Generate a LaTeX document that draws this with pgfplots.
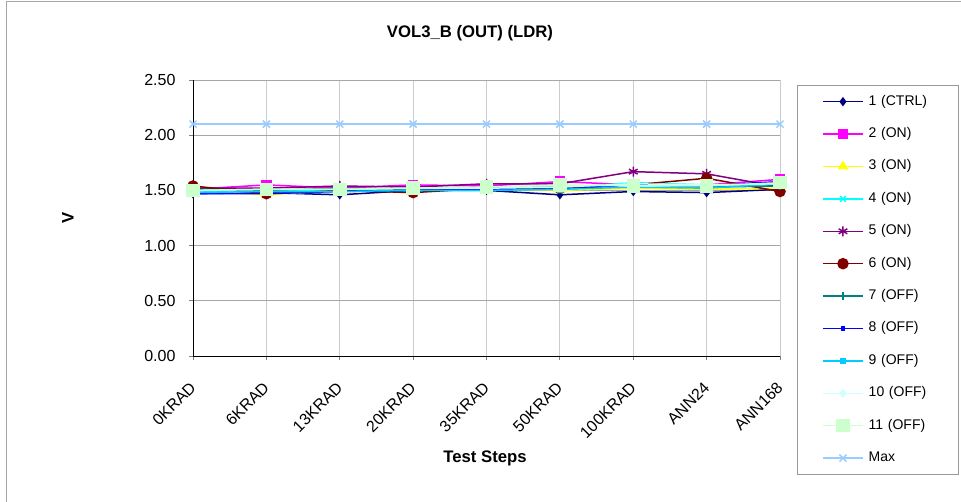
\documentclass[border=0pt]{standalone}
\usepackage{pgfplots}
\pgfplotsset{compat=1.18}
\usepackage{fontspec}
\setmainfont{Liberation Sans}
\definecolor{c1}{RGB}{0,0,128}
\definecolor{c2}{RGB}{255,0,255}
\definecolor{c3}{RGB}{255,255,0}
\definecolor{c4}{RGB}{0,255,255}
\definecolor{c5}{RGB}{128,0,128}
\definecolor{c6}{RGB}{128,0,0}
\definecolor{c7}{RGB}{0,128,128}
\definecolor{c8}{RGB}{0,0,255}
\definecolor{c9}{RGB}{0,204,255}
\definecolor{c10}{RGB}{204,255,255}
\definecolor{c11}{RGB}{204,255,204}
\definecolor{cmax}{RGB}{153,204,255}
\begin{document}
\begin{tikzpicture}[x=1pt,y=1pt]
\useasboundingbox (0,0) rectangle (961,501);
\draw[gray!70, line width=1pt] (6,-10) -- (6,499) -- (975,499);
\node[font=\bfseries\fontsize{16.7}{20}\selectfont] at (470,468) {VOL3\_B (OUT) (LDR)};
\node[font=\bfseries\fontsize{16.7}{20}\selectfont, rotate=90] at (68,283) {V};
\node[font=\bfseries\fontsize{16.7}{20}\selectfont] at (485,43) {Test Steps};
\begin{axis}[
  at={(193pt,145pt)}, anchor=south west,
  scale only axis, width=587pt, height=276pt,
  xmin=0, xmax=8, ymin=0, ymax=2.5,
  xtick={0,...,8},
  xticklabels={0KRAD,6KRAD,13KRAD,20KRAD,35KRAD,50KRAD,100KRAD,ANN24,ANN168},
  ytick={0,0.5,...,2.5},
  yticklabel style={xshift=-10pt, /pgf/number format/fixed, /pgf/number format/fixed zerofill, /pgf/number format/precision=2},
  /pgf/number format/assume math mode=true,
  tick label style={font=\fontsize{16}{19}\selectfont},
  x tick label style={yshift=-25pt, rotate=45, anchor=east, inner sep=0pt},
  grid=major,
  x grid style={gray!40, line width=0.8pt},
  y grid style={gray!70, line width=0.8pt},
  axis x line*=bottom, axis y line*=left,
  axis line style={black, line width=1pt},
  tick align=outside, major tick length=4pt,
  tick style={gray, line width=0.8pt},
  legend cell align=left,
  legend style={at={(1.029,0.982)}, anchor=north west, draw=gray!80, fill=white,
    inner xsep=25pt, inner ysep=10pt, row sep=19.4pt, column sep=5pt,
    font=\fontsize{14}{16}\selectfont,
    nodes={inner sep=0pt, text height=10pt, text depth=3pt, text width=64pt, align=left}},
  legend image code/.code={
    \draw[mark repeat=2,mark phase=2] plot coordinates {(0pt,0pt) (20pt,0pt) (40pt,0pt)};},
]
\addplot[color=c1, line width=1.5pt, mark=diamond*, mark size=3.5pt, mark options={solid}] coordinates {(0,1.47) (1,1.48) (2,1.46) (3,1.50) (4,1.50) (5,1.46) (6,1.49) (7,1.48) (8,1.51)};
\addlegendentry{1 (CTRL)}
\addplot[color=c2, line width=1.5pt, mark=square*, mark size=4.5pt, mark options={solid}] coordinates {(0,1.51) (1,1.55) (2,1.52) (3,1.55) (4,1.54) (5,1.58) (6,1.55) (7,1.55) (8,1.60)};
\addlegendentry{2 (ON)}
\addplot[color=c3, line width=1.5pt, mark=triangle*, mark size=4.5pt, mark options={solid}] coordinates {(0,1.50) (1,1.46) (2,1.50) (3,1.50) (4,1.51) (5,1.50) (6,1.52) (7,1.51) (8,1.52)};
\addlegendentry{3 (ON)}
\addplot[color=c4, line width=1.5pt, mark=x, mark size=4pt, mark options={solid}] coordinates {(0,1.49) (1,1.50) (2,1.50) (3,1.50) (4,1.51) (5,1.52) (6,1.57) (7,1.55) (8,1.55)};
\addlegendentry{4 (ON)}
\addplot[color=c5, line width=1.5pt, mark=asterisk, mark size=5pt, mark options={solid}] coordinates {(0,1.52) (1,1.52) (2,1.54) (3,1.53) (4,1.56) (5,1.56) (6,1.67) (7,1.65) (8,1.53)};
\addlegendentry{5 (ON)}
\addplot[color=c6, line width=1.5pt, mark=*, mark size=5pt, mark options={solid}] coordinates {(0,1.54) (1,1.47) (2,1.50) (3,1.48) (4,1.52) (5,1.52) (6,1.55) (7,1.61) (8,1.49)};
\addlegendentry{6 (ON)}
\addplot[color=c7, line width=1.5pt, mark=|, mark size=4pt, mark options={solid}] coordinates {(0,1.51) (1,1.50) (2,1.52) (3,1.51) (4,1.52) (5,1.53) (6,1.55) (7,1.53) (8,1.54)};
\addlegendentry{7 (OFF)}
\addplot[color=c8, line width=1.5pt, mark=square*, mark size=1.5pt, mark options={solid}] coordinates {(0,1.47) (1,1.47) (2,1.49) (3,1.50) (4,1.51) (5,1.51) (6,1.55) (7,1.54) (8,1.58)};
\addlegendentry{8 (OFF)}
\addplot[color=c9, line width=1.5pt, mark=square*, mark size=2.5pt, mark options={solid}] coordinates {(0,1.48) (1,1.49) (2,1.49) (3,1.50) (4,1.50) (5,1.51) (6,1.53) (7,1.52) (8,1.56)};
\addlegendentry{9 (OFF)}
\addplot[color=c10, line width=1.5pt, mark=diamond*, mark size=3.5pt, mark options={solid}] coordinates {(0,1.50) (1,1.51) (2,1.51) (3,1.52) (4,1.52) (5,1.53) (6,1.56) (7,1.55) (8,1.56)};
\addlegendentry{10 (OFF)}
\addplot[color=c11, line width=1.5pt, mark=square*, mark size=6pt, mark options={solid}] coordinates {(0,1.50) (1,1.51) (2,1.51) (3,1.52) (4,1.53) (5,1.55) (6,1.54) (7,1.54) (8,1.57)};
\addlegendentry{11 (OFF)}
\addplot[color=cmax, line width=1.5pt, mark=x, mark size=5pt, mark options={solid}] coordinates {(0,2.10) (1,2.10) (2,2.10) (3,2.10) (4,2.10) (5,2.10) (6,2.10) (7,2.10) (8,2.10)};
\addlegendentry{Max}
\end{axis}
\end{tikzpicture}
\end{document}
